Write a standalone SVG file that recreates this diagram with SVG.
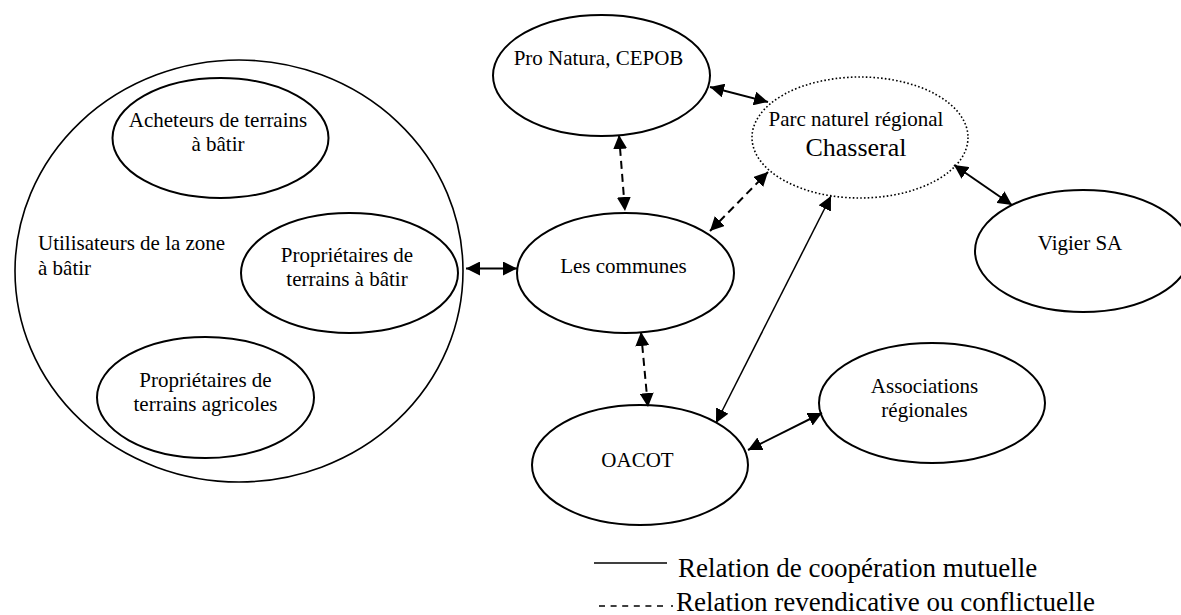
<svg xmlns="http://www.w3.org/2000/svg" width="1181" height="615" viewBox="0 0 1181 615">
<style>
  .node { fill: #fff; stroke: #000; stroke-width: 2; }
  .big { fill: none; stroke: #000; stroke-width: 1.6; }
  .dotted { fill: #fff; stroke: #000; stroke-width: 1.6; stroke-dasharray: 1.6 2.2; }
  text { font-family: "Liberation Serif", "Times New Roman", serif; font-size: 21px; fill: #000; }
  .c { text-anchor: middle; }
  .big-t { font-size: 26px; }
  .leg { font-size: 27px; }
  .solid { stroke: #000; stroke-width: 2; fill: none; marker-start: url(#ah); marker-end: url(#ah); }
  .thin { stroke-width: 1.5; }
  .dash { stroke: #000; stroke-width: 2; fill: none; stroke-dasharray: 8 5; marker-start: url(#ah); marker-end: url(#ah); }
</style>
<defs>
  <marker id="ah" markerUnits="userSpaceOnUse" markerWidth="14" markerHeight="14" refX="14" refY="7" orient="auto-start-reverse" viewBox="0 0 14 14">
    <path d="M0,0 L14,7 L0,14 z" fill="#000"/>
  </marker>
</defs>
<rect width="1181" height="615" fill="#fff"/>

<g id="utilisateurs">
  <ellipse class="big" cx="239" cy="271" rx="224" ry="211"/>
  <text x="38" y="250">Utilisateurs de la zone</text>
  <text x="38" y="275">à bâtir</text>
</g>
<g id="acheteurs">
  <ellipse class="node" cx="220.5" cy="138" rx="108" ry="60"/>
  <text class="c" x="218" y="127">Acheteurs de terrains</text>
  <text class="c" x="218" y="151">à bâtir</text>
</g>
<g id="proprietaires-batir">
  <ellipse class="node" cx="349.5" cy="273" rx="108.5" ry="60"/>
  <text class="c" x="347" y="262">Propriétaires de</text>
  <text class="c" x="347" y="286">terrains à bâtir</text>
</g>
<g id="proprietaires-agricoles">
  <ellipse class="node" cx="205.5" cy="397.5" rx="108.5" ry="60.5"/>
  <text class="c" x="205.5" y="387">Propriétaires de</text>
  <text class="c" x="205.5" y="411">terrains agricoles</text>
</g>
<g id="pro-natura">
  <ellipse class="node" cx="601.5" cy="75.5" rx="108.5" ry="60.5"/>
  <text class="c" x="598.5" y="65">Pro Natura, CEPOB</text>
</g>
<g id="parc">
  <ellipse class="dotted" cx="860" cy="137.5" rx="108" ry="60.5"/>
  <text class="c" x="856" y="126">Parc naturel régional</text>
  <text class="c big-t" x="856" y="156">Chasseral</text>
</g>
<g id="communes">
  <ellipse class="node" cx="625.5" cy="273" rx="108.5" ry="60"/>
  <text class="c" x="623.5" y="273">Les communes</text>
</g>
<g id="vigier">
  <ellipse class="node" cx="1083" cy="251" rx="108" ry="61"/>
  <text class="c" x="1080" y="250">Vigier SA</text>
</g>
<g id="oacot">
  <ellipse class="node" cx="640" cy="465" rx="108" ry="60"/>
  <text class="c" x="637.5" y="467">OACOT</text>
</g>
<g id="associations">
  <ellipse class="node" cx="932" cy="403" rx="113" ry="60"/>
  <text class="c" x="924.5" y="393">Associations</text>
  <text class="c" x="924.5" y="417">régionales</text>
</g>

<g id="connectors">
  <line class="solid" x1="466" y1="268.5" x2="517" y2="268.5"/>
  <line class="solid" x1="710" y1="87" x2="768" y2="102"/>
  <line class="dash" x1="619" y1="135" x2="625" y2="211"/>
  <line class="dash" x1="710" y1="231" x2="768" y2="172"/>
  <line class="solid thin" x1="831" y1="196" x2="716" y2="423"/>
  <line class="dash" x1="641" y1="332" x2="648" y2="407"/>
  <line class="solid" x1="748" y1="450" x2="822" y2="413"/>
  <line class="solid" x1="954" y1="165" x2="1012" y2="205"/>
</g>

<g id="legend">
  <line x1="594" y1="563" x2="667" y2="563" stroke="#000" stroke-width="1.6"/>
  <line x1="599" y1="606" x2="668" y2="606" stroke="#000" stroke-width="1.4" stroke-dasharray="6 5.6"/>
  <line x1="671" y1="606" x2="673" y2="606" stroke="#000" stroke-width="1.4"/>
  <text class="leg" x="678" y="577">Relation de coopération mutuelle</text>
  <text class="leg" x="676" y="611">Relation revendicative ou conflictuelle</text>
</g>
</svg>
